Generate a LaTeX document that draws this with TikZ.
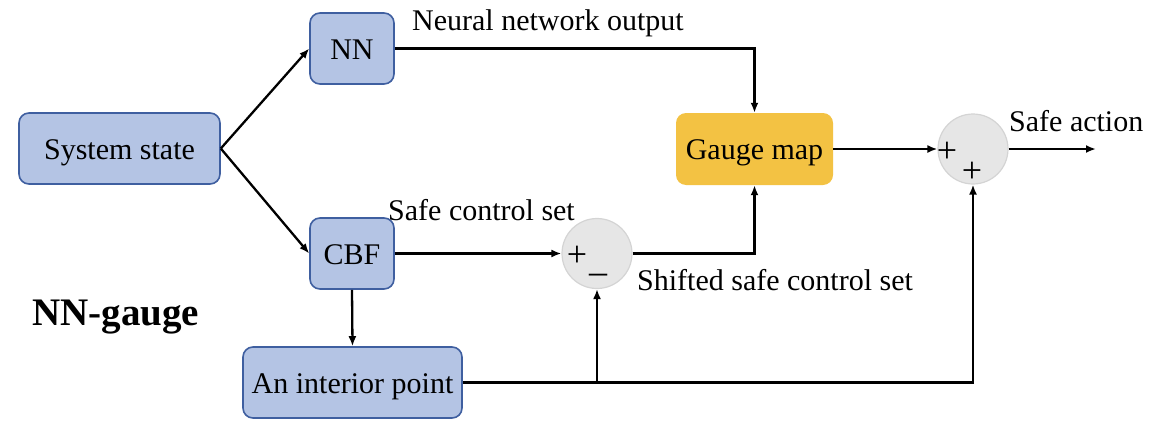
\documentclass[tikz,border=0pt]{standalone}
\usepackage{fontspec}
\setmainfont{Liberation Serif}
\usetikzlibrary{arrows.meta}
\definecolor{boxfill}{HTML}{B4C4E4}
\definecolor{boxdraw}{HTML}{3F5FA0}
\definecolor{gaugefill}{HTML}{F3C243}
\definecolor{sumfill}{HTML}{E6E6E6}
\definecolor{sumdraw}{HTML}{D4D4D4}
\begin{document}
\begin{tikzpicture}[x=1pt,y=-1pt,
  txt/.style={font=\fontsize{30}{34}\selectfont, inner sep=0pt},
  boxtxt/.style={txt, text height=26pt, text depth=5pt},
  bluebox/.style={boxtxt, draw=boxdraw, line width=1.6pt, fill=boxfill, rounded corners=10pt, minimum height=71pt},
  gaugebox/.style={boxtxt, fill=gaugefill, rounded corners=10pt, minimum height=72pt, minimum width=157pt},
  sumnode/.style={circle, fill=sumfill, draw=sumdraw, line width=1.2pt, minimum size=70pt, inner sep=0pt},
  sign/.style={inner sep=0pt, font=\fontsize{36}{40}\selectfont},
  lbl/.style={txt, anchor=west},
  conn/.style={line width=2.3pt, -{Latex[length=10pt,width=8pt]}}]
\useasboundingbox (0,0) rectangle (1152,434);

\node[bluebox, minimum width=201pt] (sys) at (119.5,148.5) {System state};
\node[bluebox, minimum width=84pt] (nn) at (352,48.5) {NN};
\node[bluebox, minimum width=84pt] (cbf) at (352,253.5) {CBF};
\node[bluebox, minimum width=219pt] (ip) at (352.5,382.5) {An interior point};
\node[gaugebox] (gauge) at (754.5,149) {Gauge map};
\node[sumnode] (s1) at (597,253.5) {};
\node[sumnode] (s2) at (973,149) {};

\node[sign] (s1p) at (577,256) {+};
\node[sign, anchor=base] (s1m) at (598,283) {--};
\node[sign] (s2p) at (947,152) {+};
\node[sign] (s2q) at (972,172) {+};

\node[lbl] (lnn) at (412,23) {Neural network output};
\node[lbl] (lsafe) at (388,210) {Safe control set};
\node[lbl] (lshift) at (637,280) {Shifted safe control set};
\node[lbl] (lact) at (1009,121) {Safe action};
\node[lbl, font=\fontsize{39}{44}\selectfont\bfseries] (title) at (32,317) {NN-gauge};

\coordinate (out) at (1096,149);
\coordinate (j1) at (597,382.5);

\draw[conn] (sys.east) -- (nn.west);
\draw[conn] (sys.east) -- (cbf.west);
\draw[conn] (nn.east) -| (gauge.north);
\draw[conn] (cbf.east) -- (s1.west);
\draw[conn] (s1.east) -| (gauge.south);
\draw[conn] (gauge.east) -- (s2.west);
\draw[conn] (s2.east) -- (out);
\draw[conn] (cbf.south) -- (ip.north);
\draw[conn] (ip.east) -| (s2.south);
\draw[conn] (j1) -- (s1.south);
\end{tikzpicture}
\end{document}
